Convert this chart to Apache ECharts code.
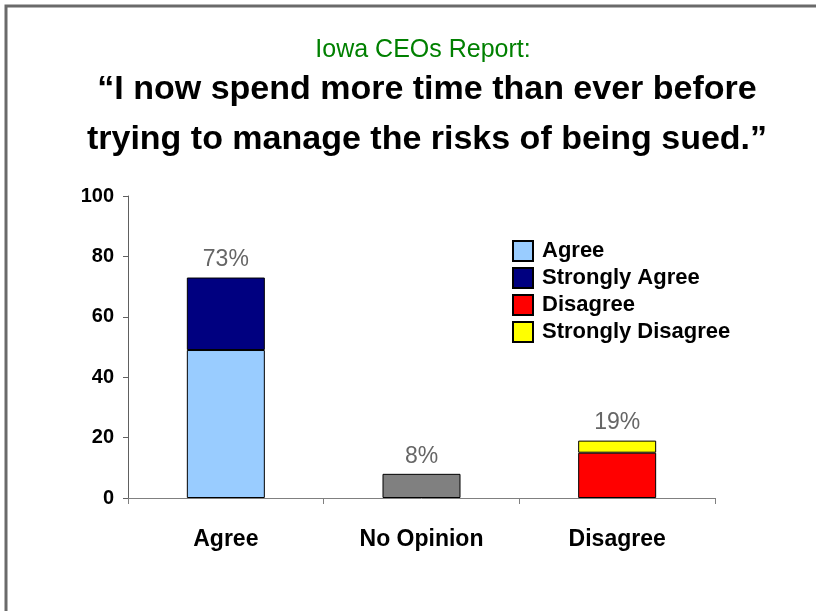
<!DOCTYPE html>
<html>
<head>
<meta charset="utf-8">
<script src="https://cdn.jsdelivr.net/npm/echarts@6/dist/echarts.min.js"></script>
<style>
    html,body{margin:0;padding:0;background:#fff;}
    #chart{width:816px;height:611px;}
</style>
</head>
<body>
<div id="chart"></div>
<script>
    var categories = ['Agree', 'No Opinion', 'Disagree'];
    var agree = [49, '-', '-'];
    var stronglyAgree = [24, '-', '-'];
    var noOpinion = ['-', 8, '-'];
    var disagree = ['-', '-', 15];
    var stronglyDisagree = ['-', '-', 4];
    var totals = [73, 8, 19];
    var yTicks = [0, 20, 40, 60, 80, 100];

    var myChart = echarts.init(document.getElementById('chart'));

    // 只在每根柱子最上面一段显示百分比
    function topLabel(values, idx) {
        return values.map(function (v, i) {
            if (i !== idx) return v;
            return {
                value: v,
                label: {
                    show: true,
                    position: 'top',
                    distance: 6,
                    formatter: totals[i] + '%',
                    color: '#666666',
                    fontSize: 23,
                    fontFamily: 'Liberation Sans, Arial, sans-serif'
                }
            };
        });
    }

    var barBorder = {borderColor: '#000', borderWidth: 1};

    var option = {
        animation: false,
        backgroundColor: '#fff',
        title: [
            {
                text: 'Iowa CEOs Report:',
                left: 418,
                textAlign: 'center',
                top: 33,
                textStyle: {color: '#008000', fontSize: 25, fontWeight: 'normal', fontFamily: 'Liberation Sans, Arial, sans-serif'}
            },
            {
                text: '\u201cI now spend more time than ever before\ntrying to manage the risks of being sued.\u201d',
                left: 422,
                textAlign: 'center',
                top: 60,
                textStyle: {color: '#000', fontSize: 34, fontWeight: 'bold', lineHeight: 50, fontFamily: 'Liberation Sans, Arial, sans-serif'}
            }
        ],
        legend: {
            orient: 'vertical',
            left: 507,
            top: 235,
            itemWidth: 20,
            itemHeight: 20,
            itemGap: 5,
            icon: 'rect',
            data: ['Agree', 'Strongly Agree', 'Disagree', 'Strongly Disagree'],
            textStyle: {color: '#000', fontSize: 22, fontWeight: 'bold', fontFamily: 'Liberation Sans, Arial, sans-serif', padding: [0, 0, 0, 4]}
        },
        grid: {left: 128, right: 101, top: 196, bottom: 113},
        xAxis: {
            type: 'category',
            data: categories,
            axisLine: {lineStyle: {color: '#808080', width: 1}},
            axisTick: {show: true, alignWithLabel: false, length: 6, lineStyle: {color: '#808080'}},
            axisLabel: {
                color: '#000', fontSize: 23, fontWeight: 'bold', margin: 30,
                fontFamily: 'Liberation Sans Narrow, Liberation Sans, Arial, sans-serif'
            }
        },
        yAxis: {
            type: 'value',
            min: yTicks[0],
            max: yTicks[yTicks.length - 1],
            interval: 20,
            splitLine: {show: false},
            axisLine: {show: true, lineStyle: {color: '#606060', width: 1}},
            axisTick: {show: true, length: 5, lineStyle: {color: '#606060'}},
            axisLabel: {
                color: '#000', fontSize: 20, fontWeight: 'bold', margin: 14,
                fontFamily: 'Liberation Sans Narrow, Liberation Sans, Arial, sans-serif'
            }
        },
        series: [
            {name: 'Agree', type: 'bar', stack: 's', barWidth: 78, data: agree,
                itemStyle: Object.assign({color: '#99CCFF'}, barBorder)},
            {name: 'Strongly Agree', type: 'bar', stack: 's', data: topLabel(stronglyAgree, 0),
                itemStyle: Object.assign({color: '#000080'}, barBorder)},
            {name: 'No Opinion', type: 'bar', stack: 's', data: topLabel(noOpinion, 1),
                itemStyle: Object.assign({color: '#808080'}, barBorder)},
            {name: 'Disagree', type: 'bar', stack: 's', data: disagree,
                itemStyle: Object.assign({color: '#FF0000'}, barBorder)},
            {name: 'Strongly Disagree', type: 'bar', stack: 's', data: topLabel(stronglyDisagree, 2),
                itemStyle: Object.assign({color: '#FFFF00'}, barBorder)}
        ],
        graphic: [
            {
                type: 'polyline',
                shape: {points: [[6, 611], [6, 6], [816, 6]]},
                style: {stroke: '#6a6a6a', lineWidth: 3, fill: null}
            }
        ]
    };
    myChart.setOption(option, true);
</script>
</body>
</html>
